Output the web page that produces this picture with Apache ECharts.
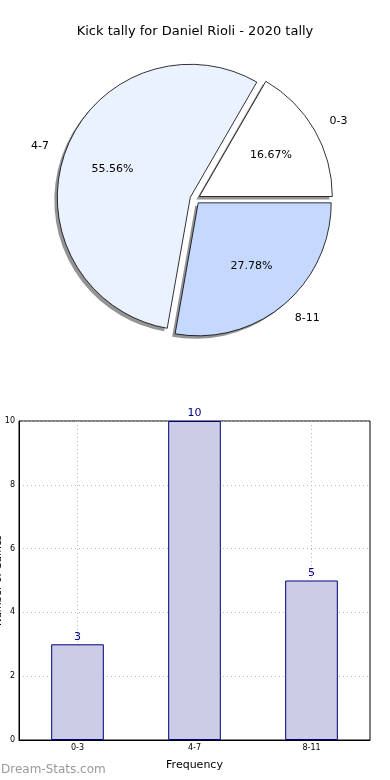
<!DOCTYPE html>
<html>
<head>
<meta charset="utf-8">
<script src="https://cdn.jsdelivr.net/npm/echarts@6/dist/echarts.min.js"></script>
<style>html,body{margin:0;padding:0;background:#fff;}#c{width:390px;height:780px;}</style>
</head>
<body>
<div id="c"></div>
<script>
var titleText = 'Kick tally for Daniel Rioli - 2020 tally';
var categories = ['0-3', '4-7', '8-11'];
var values = [3, 10, 5];
var pieColors = ['#ffffff', '#eaf1ff', '#c5d9ff'];
var yTicks = [0, 2, 4, 6, 8, 10];
var xName = 'Frequency';
var yName = 'Number of Games';
var watermark = 'Dream-Stats.com';

var FONT = 'DejaVu Sans';
var R = 133;
var CX = 195, CY = 199;
var total = values.reduce(function (a, b) { return a + b; }, 0);
var pieData = categories.map(function (c, i) {
  return { name: c, value: values[i], selected: true, itemStyle: { color: pieColors[i] } };
});
var pieDataPlain = categories.map(function (c, i) {
  return { name: c, value: values[i], selected: true };
});

var chart = echarts.init(document.getElementById('c'), null, { renderer: 'canvas' });
chart.setOption({
  animation: false,
  backgroundColor: '#fff',
  textStyle: { fontFamily: FONT },
  title: [
    { text: titleText, left: 'center', top: 20, textStyle: { fontFamily: FONT, fontSize: 13, fontWeight: 'normal', color: '#000' } },
    { text: watermark, left: -4, top: 759, textStyle: { fontFamily: FONT, fontSize: 12, fontWeight: 'normal', color: '#999999' } }
  ],
  grid: { left: 19, right: 20, top: 421, bottom: 40, show: true, borderColor: '#000', borderWidth: 1, containLabel: false, outerBoundsMode: 'none' },
  xAxis: {
    type: 'category',
    data: categories,
    boundaryGap: true,
    axisLine: { lineStyle: { color: '#000', width: 1 } },
    axisTick: { show: false, alignWithLabel: true },
    axisLabel: { color: '#000', fontSize: 8, margin: 4, fontFamily: FONT },
    splitLine: { show: true, alignWithLabel: true, lineStyle: { color: '#b8b8b8', type: [1, 3], width: 1 } },
    name: xName,
    nameLocation: 'middle',
    nameGap: 20,
    nameMoveOverlap: false,
    nameTextStyle: { color: '#000', fontSize: 11, fontFamily: FONT }
  },
  yAxis: {
    type: 'value',
    min: yTicks[0],
    max: yTicks[yTicks.length - 1],
    interval: yTicks[1] - yTicks[0],
    axisLine: { show: true, lineStyle: { color: '#000', width: 1 } },
    axisTick: { show: false },
    axisLabel: { color: '#000', fontSize: 8, margin: 4, fontFamily: FONT },
    splitLine: { show: true, lineStyle: { color: '#b8b8b8', type: [1, 3], width: 1 } },
    name: yName,
    nameLocation: 'middle',
    nameGap: 16,
    nameMoveOverlap: false,
    nameTextStyle: { color: '#000', fontSize: 10, fontFamily: FONT }
  },
  series: [
    {
      type: 'pie',
      center: [CX - 3, CY + 3],
      radius: [0, R],
      startAngle: 0,
      clockwise: false,
      selectedMode: 'multiple',
      selectedOffset: 5,
      silent: true,
      z: 1,
      data: pieDataPlain,
      itemStyle: { color: 'rgba(0,0,0,0.42)', borderWidth: 0 },
      select: { itemStyle: { color: 'rgba(0,0,0,0.42)', borderWidth: 0 } },
      emphasis: { disabled: true },
      label: { show: false },
      labelLine: { show: false }
    },
    {
      type: 'pie',
      center: [CX, CY],
      radius: [0, R],
      startAngle: 0,
      clockwise: false,
      selectedMode: 'multiple',
      selectedOffset: 5,
      avoidLabelOverlap: false,
      silent: true,
      z: 2,
      data: pieData,
      itemStyle: { borderColor: '#000', borderWidth: 0.8 },
      select: { itemStyle: { borderColor: '#000', borderWidth: 0.8 } },
      emphasis: { disabled: true },
      label: { show: true, position: 'outside', color: '#000', fontSize: 11, fontFamily: FONT, distanceToLabelLine: 0 },
      labelLine: { show: false, length: R * 0.13, length2: 0 }
    },
    {
      type: 'pie',
      center: [CX, CY],
      radius: [0, R * 1.2],
      startAngle: 0,
      clockwise: false,
      selectedMode: 'multiple',
      selectedOffset: 5,
      silent: true,
      z: 3,
      data: pieDataPlain,
      itemStyle: { color: 'rgba(0,0,0,0)', borderWidth: 0 },
      select: { itemStyle: { color: 'rgba(0,0,0,0)', borderWidth: 0 } },
      emphasis: { disabled: true },
      label: {
        show: true, position: 'inside', color: '#000', fontSize: 11, fontFamily: FONT,
        formatter: function (p) { return (p.value / total * 100).toFixed(2) + '%'; }
      },
      labelLine: { show: false }
    },
    {
      type: 'bar',
      data: values,
      barWidth: '45%',
      itemStyle: { color: '#ccccE6', borderColor: '#000080', borderWidth: 1 },
      label: { show: true, position: 'top', color: '#000080', fontSize: 11, distance: 2, fontFamily: FONT },
      emphasis: { disabled: true },
      silent: true
    }
  ]
});
</script>
</body>
</html>
